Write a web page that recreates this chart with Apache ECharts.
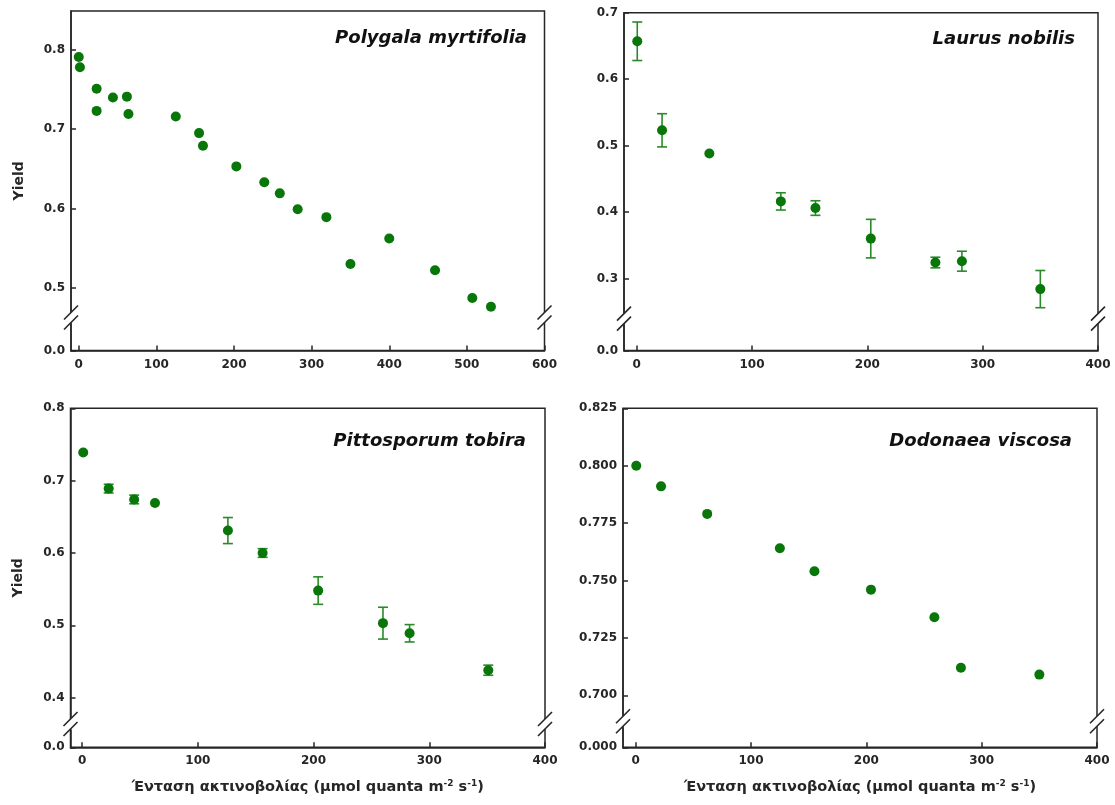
<!DOCTYPE html>
<html><head><meta charset="utf-8">
<script src="https://cdn.jsdelivr.net/npm/echarts@6/dist/echarts.min.js"></script>
<style>html,body{margin:0;padding:0;background:#fff}#c{width:1115px;height:805px}</style>
</head><body><div id="c"></div>
<script>
// ---- data ----
// Polygala myrtifolia
const polygalaX = [0, 1.5, 23, 23, 44, 62, 64, 125, 155, 160, 203, 239, 259, 282, 319, 350, 400, 459, 507, 531];
const polygalaY = [0.791, 0.778, 0.751, 0.723, 0.740, 0.741, 0.719, 0.716, 0.695, 0.679, 0.653, 0.633, 0.619, 0.599, 0.589, 0.530, 0.562, 0.522, 0.487, 0.476];
// Laurus nobilis
const laurusX = [0.5, 22, 63, 125, 155, 203, 259, 282, 350];
const laurusY = [0.657, 0.523, 0.488, 0.416, 0.406, 0.360, 0.324, 0.326, 0.284];
const laurusErr = [0.029, 0.025, 0, 0.013, 0.011, 0.029, 0.008, 0.015, 0.028];
// Pittosporum tobira
const pittoX = [1, 23, 45, 63, 126, 156, 204, 260, 283, 351];
const pittoY = [0.739, 0.689, 0.674, 0.669, 0.631, 0.600, 0.548, 0.503, 0.489, 0.438];
const pittoErr = [0, 0.006, 0.006, 0, 0.018, 0.006, 0.019, 0.022, 0.012, 0.007];
// Dodonaea viscosa
const dodoX = [0.5, 22, 62, 125, 155, 204, 259, 282, 350];
const dodoY = [0.800, 0.791, 0.779, 0.764, 0.754, 0.746, 0.734, 0.712, 0.709];

// tick labels
const xTicks600 = [0, 100, 200, 300, 400, 500, 600];
const xTicks400 = [0, 100, 200, 300, 400];
const polygalaYTicks = [0, 0.5, 0.6, 0.7, 0.8];
const laurusYTicks = [0, 0.3, 0.4, 0.5, 0.6, 0.7];
const pittoYTicks = [0, 0.4, 0.5, 0.6, 0.7, 0.8];
const dodoYTicks = [0, 0.700, 0.725, 0.750, 0.775, 0.800, 0.825];

const speciesNames = ['Polygala myrtifolia', 'Laurus nobilis', 'Pittosporum tobira', 'Dodonaea viscosa'];
const yName = 'Yield';
const xName = 'Ένταση ακτινοβολίας (μmol quanta m{sup|-2} s{sup|-1})';

// ---- layout / styling ----
const FONT = 'DejaVu Sans';
const DOT = '#087608';
const ERR = '#2a8a2a';
const INK = '#262626';

const panels = [
  {x: polygalaX, y: polygalaY, err: null, xMin: -10, xMax: 600, xT: xTicks600, yMax: 0.849, yT: polygalaYTicks, dec: 1,
   brk: [0.034, 0.470, 0.0152], grid: {left: 71, right: 570.5, top: 11, bottom: 454.5}, yName: true, xName: false, titleRight: 588, titleTop: 29},
  {x: laurusX, y: laurusY, err: laurusErr, xMin: -11, xMax: 400, xT: xTicks400, yMax: 0.7, yT: laurusYTicks, dec: 1,
   brk: [0.039, 0.2487, 0.0181], grid: {left: 624, right: 17, top: 12.7, bottom: 454.5}, yName: false, xName: false, titleRight: 40, titleTop: 30},
  {x: pittoX, y: pittoY, err: pittoErr, xMin: -10, xMax: 400, xT: xTicks400, yMax: 0.8, yT: pittoYTicks, dec: 1,
   brk: [0.0239, 0.3719, 0.0166], grid: {left: 70.5, right: 570, top: 408.3, bottom: 57.7}, yName: true, xName: true, titleRight: 589, titleTop: 432},
  {x: dodoX, y: dodoY, err: null, xMin: -11, xMax: 400, xT: xTicks400, yMax: 0.825, yT: dodoYTicks, dec: 3,
   brk: [0.00872, 0.69128, 0.00523], grid: {left: 623, right: 18, top: 408.3, bottom: 57.7}, yName: false, xName: true, titleRight: 43, titleTop: 432}
];

const lineStyle = {color: INK, width: 1.5};
const labelStyle = {fontFamily: FONT, fontWeight: 'bold', fontSize: 12, color: INK};

function errRender(params, api) {
  const x = api.value(0), y = api.value(1), e = api.value(2);
  if (!e) return null;
  const top = api.coord([x, y + e]);
  const bot = api.coord([x, y - e]);
  const hw = 5;
  const style = {stroke: ERR, lineWidth: 1.6, fill: null};
  return {type: 'group', children: [
    {type: 'line', shape: {x1: top[0], y1: top[1], x2: bot[0], y2: bot[1]}, style},
    {type: 'line', shape: {x1: top[0] - hw, y1: top[1], x2: top[0] + hw, y2: top[1]}, style},
    {type: 'line', shape: {x1: bot[0] - hw, y1: bot[1], x2: bot[0] + hw, y2: bot[1]}, style}
  ]};
}

const grid = [], xAxis = [], yAxis = [], series = [], title = [];
panels.forEach((p, i) => {
  grid.push(Object.assign({show: true, borderColor: INK, borderWidth: 1.5, backgroundColor: '#fff', containLabel: false, outerBoundsMode: 'none'}, p.grid));
  xAxis.push({
    type: 'value', gridIndex: i, min: p.xMin, max: p.xMax,
    axisLine: {show: true, onZero: false, lineStyle},
    axisTick: {show: true, inside: true, length: 5, customValues: p.xT, lineStyle},
    axisLabel: Object.assign({customValues: p.xT, margin: 8}, labelStyle),
    splitLine: {show: false},
    name: p.xName ? xName : '', nameLocation: 'middle', nameGap: 32,
    nameTextStyle: {fontFamily: FONT, fontWeight: 'bold', fontSize: 14.5, color: INK,
      rich: {sup: {fontFamily: FONT, fontWeight: 'bold', fontSize: 9, color: INK, verticalAlign: 'top', padding: [0, 0, 7, 0]}}}
  });
  yAxis.push({
    type: 'value', gridIndex: i, min: 0, max: p.yMax,
    breaks: [{start: p.brk[0], end: p.brk[1], gap: p.brk[2]}],
    breakArea: {show: false},
    axisLine: {show: true, onZero: false, lineStyle},
    axisTick: {show: true, inside: true, length: 5, customValues: p.yT, lineStyle},
    axisLabel: Object.assign({customValues: p.yT, margin: 6, formatter: v => Number(v).toFixed(p.dec)}, labelStyle),
    splitLine: {show: false},
    name: p.yName ? yName : '', nameLocation: 'middle', nameRotate: 90, nameGap: 45,
    nameTextStyle: {fontFamily: FONT, fontWeight: 'bold', fontSize: 14, color: INK}
  });
  if (p.err) {
    series.push({
      type: 'custom', xAxisIndex: i, yAxisIndex: i, renderItem: errRender, z: 2,
      encode: {x: 0, y: 1}, silent: true,
      data: p.x.map((v, k) => [v, p.y[k], p.err[k]])
    });
  }
  series.push({
    type: 'scatter', xAxisIndex: i, yAxisIndex: i, symbol: 'circle', symbolSize: 10, z: 3,
    itemStyle: {color: DOT, opacity: 1},
    data: p.x.map((v, k) => [v, p.y[k]])
  });
  title.push({
    text: speciesNames[i], right: p.titleRight, top: p.titleTop, padding: 0,
    textStyle: {fontFamily: FONT, fontWeight: 'bold', fontStyle: 'italic', fontSize: 18, color: '#111'}
  });
});

const chart = echarts.init(document.getElementById('c'), null, {renderer: 'canvas'});
chart.setOption({animation: false, backgroundColor: '#fff', title, grid, xAxis, yAxis, series});

// axis-break marks ("//") on both frame edges
const graphic = [];
panels.forEach((p, i) => {
  const ya = chart.convertToPixel({yAxisIndex: i}, p.brk[0]);
  const yb = chart.convertToPixel({yAxisIndex: i}, p.brk[1]);
  const cy = (ya + yb) / 2;
  const xl = chart.convertToPixel({xAxisIndex: i}, p.xMin);
  const xr = chart.convertToPixel({xAxisIndex: i}, p.xMax);
  [xl, xr].forEach(cx => {
    const d = 7, s = 5;
    graphic.push({type: 'polygon', z: 100, shape: {points: [[cx - d, cy - s + d], [cx + d, cy - s - d], [cx + d, cy + s - d], [cx - d, cy + s + d]]},
      style: {fill: '#fff', stroke: null}});
    graphic.push({type: 'line', z: 101, shape: {x1: cx - d, y1: cy - s + d, x2: cx + d, y2: cy - s - d}, style: {stroke: INK, lineWidth: 1.6}});
    graphic.push({type: 'line', z: 101, shape: {x1: cx - d, y1: cy + s + d, x2: cx + d, y2: cy + s - d}, style: {stroke: INK, lineWidth: 1.6}});
  });
});
chart.setOption({graphic});
</script>
</body></html>
